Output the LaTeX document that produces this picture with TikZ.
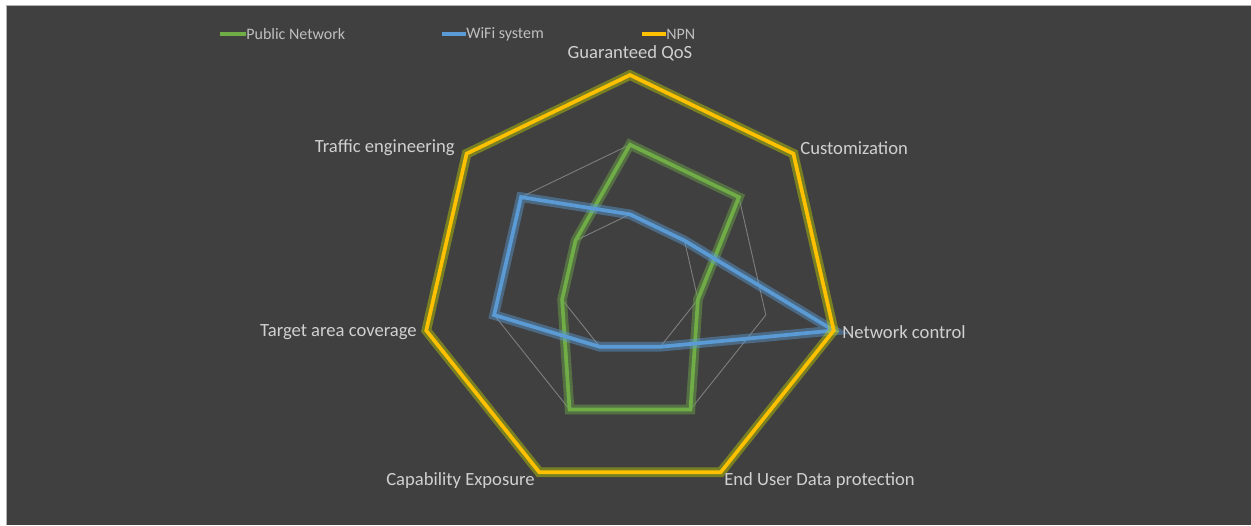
\documentclass[tikz,border=0pt]{standalone}
\usepackage{fontspec}
\setmainfont{Carlito}
\usetikzlibrary{calc}
\definecolor{bgdark}{HTML}{404040}
\definecolor{pubgreen}{HTML}{70AD47}
\definecolor{wifiblue}{HTML}{5B9BD5}
\definecolor{npnyellow}{HTML}{FFC000}
\definecolor{gridgray}{HTML}{7F7F7F}
\definecolor{labelgray}{HTML}{D0D0D0}
\definecolor{legendgray}{HTML}{BFBFBF}
\tikzset{
  axislabel/.style={inner sep=0pt, text=labelgray, font=\fontsize{10.6pt}{12pt}\selectfont},
  legendlabel/.style={inner sep=0pt, anchor=west, text=legendgray, font=\fontsize{9.1pt}{11pt}\selectfont},
  gridring/.style={draw=gridgray, line width=0.5pt, line join=miter},
  serieslinep/.style={draw=#1, line width=2.1pt, line join=miter},
  seriesglow/.style={draw=#1, line width=5.5pt, opacity=0.45, line join=miter},
  legendline/.style={draw=#1, line width=1.8pt}
}
\begin{document}
\begin{tikzpicture}[x=0.02cm, y=0.02cm]
\useasboundingbox (0,0) rectangle (1251,-525);
\fill[white] (0,0) rectangle (1251,-525);
\fill[bgdark] (6,-5) rectangle (1251,-525);
\draw[gray!60, line width=0.4pt] (6,-525) -- (6,-5) -- (1251,-5);

\coordinate (C) at (630,-284);
% axis end points
\foreach \k in {0,...,6}{
  \coordinate (ax\k) at ($(C)+({90-\k*360/7}:209)$);
  \coordinate (ga\k) at ($(C)+({90-\k*360/7}:69.67)$);
  \coordinate (gb\k) at ($(C)+({90-\k*360/7}:139.33)$);
}
% grid rings
\draw[gridring] (ga0)--(ga1)--(ga2)--(ga3)--(ga4)--(ga5)--(ga6)--cycle;
\draw[gridring] (gb0)--(gb1)--(gb2)--(gb3)--(gb4)--(gb5)--(gb6)--cycle;
\draw[gridring] (ax0)--(ax1)--(ax2)--(ax3)--(ax4)--(ax5)--(ax6)--cycle;

% series values (scale 0..3)
\foreach \k/\v in {0/2,1/2,2/1,3/2,4/2,5/1,6/1}{
  \coordinate (pn\k) at ($(C)+({90-\k*360/7}:{\v*69.67})$);
}
\foreach \k/\v in {0/1,1/1,2/3,3/1,4/1,5/2,6/2}{
  \coordinate (wf\k) at ($(C)+({90-\k*360/7}:{\v*69.67})$);
}
% Public Network
\draw[seriesglow=pubgreen] (pn0)--(pn1)--(pn2)--(pn3)--(pn4)--(pn5)--(pn6)--cycle;
\draw[serieslinep=pubgreen] (pn0)--(pn1)--(pn2)--(pn3)--(pn4)--(pn5)--(pn6)--cycle;
% WiFi system
\draw[seriesglow=wifiblue] (wf0)--(wf1)--(wf2)--(wf3)--(wf4)--(wf5)--(wf6)--cycle;
\draw[serieslinep=wifiblue] (wf0)--(wf1)--(wf2)--(wf3)--(wf4)--(wf5)--(wf6)--cycle;
% NPN
\draw[seriesglow=npnyellow!75!green] (ax0)--(ax1)--(ax2)--(ax3)--(ax4)--(ax5)--(ax6)--cycle;
\draw[serieslinep=npnyellow] (ax0)--(ax1)--(ax2)--(ax3)--(ax4)--(ax5)--(ax6)--cycle;

% axis labels
\node[axislabel] (l0) at (630,-53) {Guaranteed QoS};
\node[axislabel, anchor=west] (l1) at (800,-148) {Customization};
\node[axislabel, anchor=west] (l2) at (842,-332) {Network control};
\node[axislabel, anchor=west] (l3) at (724,-481) {End User Data protection};
\node[axislabel, anchor=east] (l4) at (535,-481) {Capability Exposure};
\node[axislabel, anchor=east] (l5) at (417,-332) {Target area coverage};
\node[axislabel, anchor=east] (l6) at (455,-148) {Traffic engineering};

% legend
\node[legendlabel] (lg1) at (246,-34) {Public Network};
\node[legendlabel] (lg2) at (466,-34) {WiFi system};
\node[legendlabel] (lg3) at (666,-34) {NPN};
\coordinate (lg1s) at (220,-34);
\coordinate (lg2s) at (442,-34);
\coordinate (lg3s) at (642,-34);
\draw[legendline=pubgreen] (lg1s) -- (lg1.west);
\draw[legendline=wifiblue] (lg2s) -- (lg2.west);
\draw[legendline=npnyellow] (lg3s) -- (lg3.west);
\end{tikzpicture}
\end{document}
